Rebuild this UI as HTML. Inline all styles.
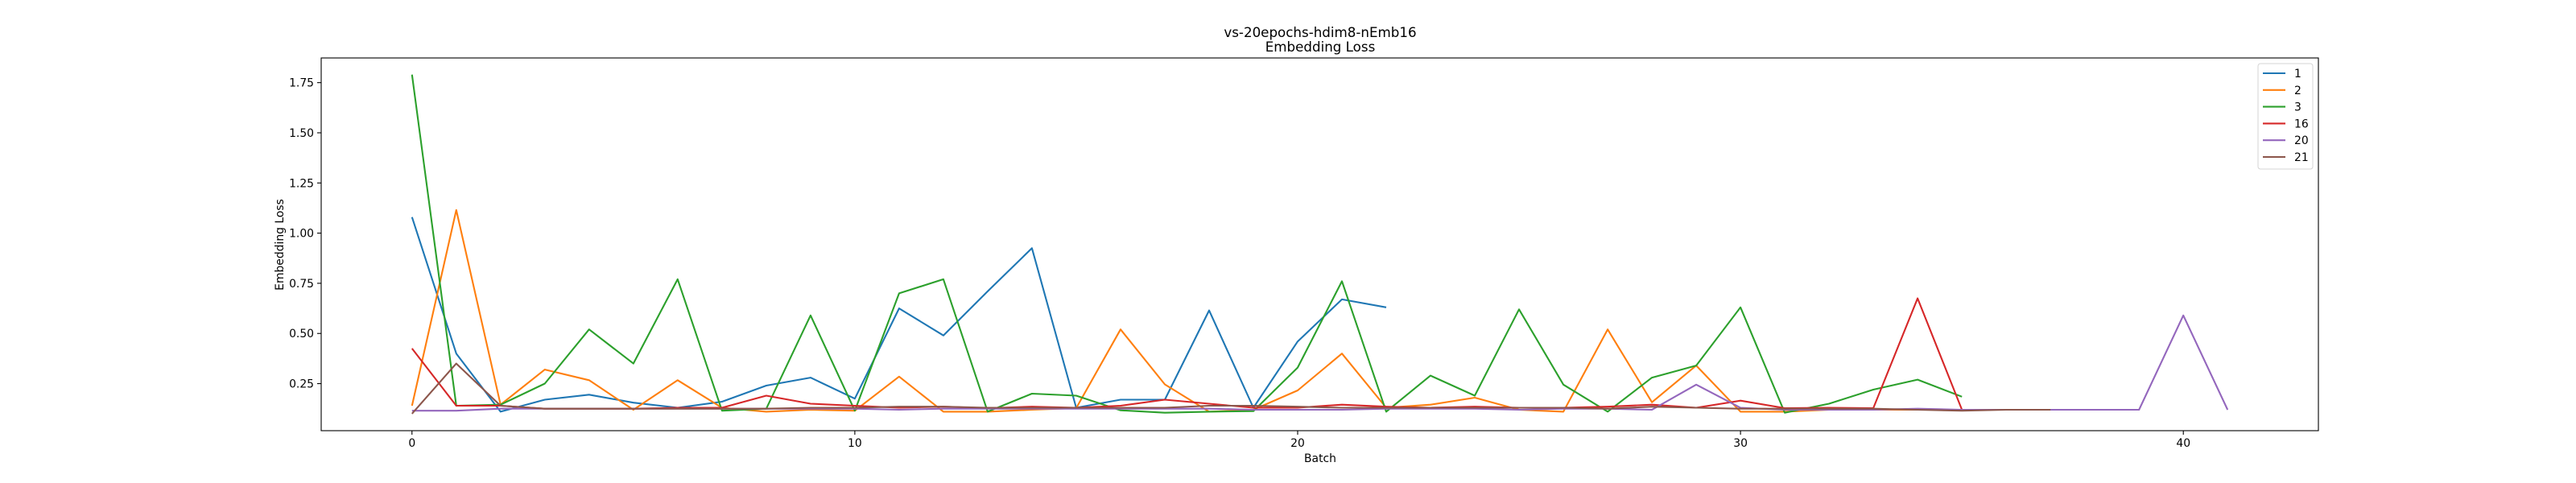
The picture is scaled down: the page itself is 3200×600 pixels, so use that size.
<!DOCTYPE html>
<html><head><meta charset="utf-8"><style>
body{margin:0;background:#fff;}
svg{display:block;font-family:"DejaVu Sans","Liberation Sans",sans-serif;}
</style></head><body>
<svg id="chart" width="3200" height="600" viewBox="0 0 3200 600" xmlns="http://www.w3.org/2000/svg">
<rect width="3200" height="600" fill="#fff"/>
<text x="1640" y="46" text-anchor="middle" font-size="16.7">vs-20epochs-hdim8-nEmb16</text>
<text x="1640" y="64" text-anchor="middle" font-size="16.7">Embedding Loss</text>
<g id="plot"></g>
<text x="1640" y="574" text-anchor="middle" font-size="13.9">Batch</text>
<text transform="translate(352,304) rotate(-90)" text-anchor="middle" font-size="13.9">Embedding Loss</text>
</svg>
<script>
const seriesNames = ["1","2","3","16","20","21"];
const colors = ["#1f77b4","#ff7f0e","#2ca02c","#d62728","#9467bd","#8c564b"];
const s1 = [1.08,0.40,0.11,0.17,0.195,0.155,0.13,0.16,0.24,0.28,0.175,0.625,0.49,0.71,0.925,0.13,0.17,0.17,0.615,0.13,0.46,0.67,0.63];
const s2 = [0.14,1.115,0.145,0.32,0.267,0.12,0.267,0.13,0.11,0.12,0.115,0.285,0.11,0.11,0.12,0.128,0.52,0.246,0.11,0.12,0.216,0.40,0.13,0.145,0.18,0.12,0.11,0.52,0.157,0.34,0.11,0.11,0.12,0.12,0.12,0.12,0.12,0.12];
const s3 = [1.79,0.14,0.145,0.25,0.52,0.35,0.77,0.115,0.125,0.59,0.115,0.70,0.77,0.11,0.20,0.19,0.117,0.105,0.11,0.113,0.33,0.76,0.11,0.29,0.19,0.62,0.245,0.11,0.28,0.34,0.63,0.105,0.15,0.22,0.27,0.185];
const s16 = [0.425,0.14,0.14,0.125,0.125,0.125,0.13,0.13,0.19,0.15,0.14,0.13,0.135,0.128,0.135,0.13,0.14,0.17,0.15,0.13,0.13,0.145,0.135,0.13,0.135,0.13,0.13,0.135,0.145,0.13,0.165,0.128,0.13,0.128,0.675,0.12,0.12,0.12];
const s20 = [0.115,0.115,0.125,0.125,0.125,0.125,0.125,0.125,0.125,0.125,0.125,0.12,0.125,0.125,0.125,0.125,0.125,0.125,0.125,0.12,0.12,0.12,0.125,0.125,0.125,0.12,0.125,0.125,0.12,0.245,0.13,0.12,0.12,0.12,0.125,0.12,0.12,0.12,0.12,0.12,0.59,0.12];
const s21 = [0.10,0.35,0.14,0.125,0.125,0.125,0.125,0.125,0.125,0.13,0.13,0.135,0.135,0.13,0.13,0.13,0.13,0.13,0.14,0.14,0.135,0.13,0.13,0.13,0.13,0.13,0.13,0.125,0.135,0.13,0.125,0.125,0.125,0.125,0.12,0.115,0.12,0.12];
const seriesData = [s1,s2,s3,s16,s20,s21];
const xTicks = [0,10,20,30,40];
const yTicks = [0.25,0.50,0.75,1.00,1.25,1.50,1.75];

const NS="http://www.w3.org/2000/svg";
const L=399,R=2880,T=72,B=535;
const xMin=-2.05,xMax=43.05,yMin=0.0155,yMax=1.873;
function xs(v){return L+(v-xMin)/(xMax-xMin)*(R-L);}
function ys(v){return B-(v-yMin)/(yMax-yMin)*(B-T);}
const g=document.getElementById('plot');
function mk(tag,attrs,parent){const e=document.createElementNS(NS,tag);for(const k in attrs)e.setAttribute(k,attrs[k]);(parent||g).appendChild(e);return e;}

seriesData.forEach((d,i)=>{
  const pts=d.map((v,j)=>xs(j).toFixed(1)+","+ys(v).toFixed(1)).join(" ");
  const pl=mk('polyline',{points:pts,fill:'none',stroke:colors[i],'stroke-width':2.1,'stroke-linejoin':'round'});
  
  
});

const frame=mk('rect',{x:L,y:T,width:R-L,height:B-T,fill:'none',stroke:'#000','stroke-width':1.1});



xTicks.forEach(t=>{
  const x=xs(t);
  const tk=mk('line',{x1:x,x2:x,y1:B,y2:B+5,stroke:'#000','stroke-width':1.1});
  
  
  const tx=mk('text',{x:x,y:B+20,'text-anchor':'middle','font-size':13.9});
  tx.textContent=String(t);
  
  
});
yTicks.forEach(t=>{
  const y=ys(t);
  const tk=mk('line',{x1:L-5,x2:L,y1:y,y2:y,stroke:'#000','stroke-width':1.1});
  
  
  const tx=mk('text',{x:L-9,y:y+5,'text-anchor':'end','font-size':13.9});
  tx.textContent=t.toFixed(2);
  
  
});

const lg=mk('g',{});


const lb=mk('rect',{x:2805,y:79,width:68,height:131,rx:3,fill:'#fff',stroke:'#d0d0d0','stroke-width':1,opacity:0.9},lg);


seriesNames.forEach((n,i)=>{
  const y=91+i*20.8;
  const ln=mk('line',{x1:2811,x2:2839,y1:y,y2:y,stroke:colors[i],'stroke-width':2.1},lg);
  
  
  const tx=mk('text',{x:2850,y:y+5,'font-size':13.9},lg);
  tx.textContent=n;
  
  
});
</script>
</body></html>
